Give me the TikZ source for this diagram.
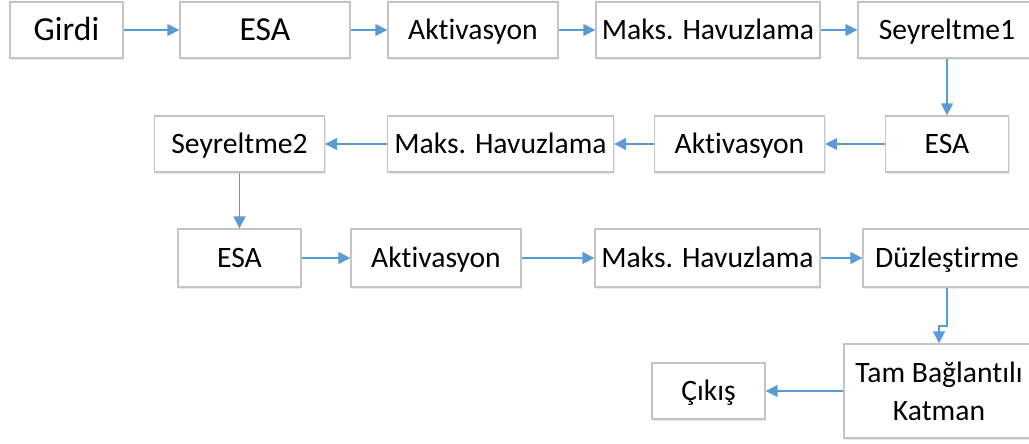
\documentclass[tikz,border=0pt]{standalone}
\usepackage{fontspec}
\setmainfont{Carlito}[Ligatures={NoCommon}]
\usetikzlibrary{arrows.meta,positioning,shadows}
\definecolor{flowblue}{HTML}{5B9BD5}
\definecolor{boxgray}{HTML}{C4C4C4}

\begin{document}
\begin{tikzpicture}[x=0.5pt, y=-0.5pt, >={Triangle[length=6pt, width=6pt]},
  plainbox/.style={draw=boxgray, line width=0.7pt, fill=white, minimum height=28pt, inner sep=0pt,
    font=\fontsize{14.8}{19}\selectfont,
    drop shadow={shadow xshift=0.6pt, shadow yshift=-1pt, opacity=0.18, fill=flowblue!60!gray}},
  box/.style={plainbox, text height=9.5pt, text depth=0pt},
  big/.style={font=\fontsize{16.8}{20}\selectfont, text height=10.4pt, text depth=0pt},
  flow/.style={->, draw=flowblue, line width=0.8pt}]
\useasboundingbox (0,0) rectangle (1029,444);
% first row
\node[box, big, minimum width=56.5pt] (girdi) at (66.5,30) {Girdi};
\node[box, big, minimum width=85pt, right of=girdi, node distance=99.25pt] (esa1) {ESA};
\node[box, minimum width=85pt, right of=esa1, node distance=104pt] (akt1) {Aktivasyon};
\node[box, minimum width=112pt, right of=akt1, node distance=117.5pt] (maks1) {Maks. Havuzlama};
\node[box, minimum width=89pt, right of=maks1, node distance=119.5pt] (seyr1) {Seyreltme1};
% second row, right to left
\node[box, minimum width=61.5pt, below of=seyr1, node distance=57pt] (esa2) {ESA};
\node[box, minimum width=85pt, left of=esa2, node distance=103.75pt] (akt2) {Aktivasyon};
\node[box, minimum width=113pt, left of=akt2, node distance=119.5pt] (maks2) {Maks. Havuzlama};
\node[box, minimum width=85pt, left of=maks2, node distance=130.5pt] (seyr2) {Seyreltme2};
% third row
\node[box, minimum width=61.5pt, minimum height=29pt, below of=seyr2, node distance=57pt] (esa3) {ESA};
\node[box, minimum width=85pt, minimum height=29pt, right of=esa3, node distance=98.25pt] (akt3) {Aktivasyon};
\node[box, minimum width=112.5pt, minimum height=29pt, right of=akt3, node distance=135.75pt] (maks3) {Maks. Havuzlama};
\node[box, minimum width=84pt, minimum height=29pt, right of=maks3, node distance=119.75pt] (duz) {Düzleştirme};
% output
\node[plainbox, align=center, minimum width=95pt, minimum height=47pt, below of=duz, node distance=66.5pt, xshift=-4pt] (tam) {Tam Bağlantılı\\Katman};
\node[box, minimum width=56.5pt, left of=tam, node distance=115.25pt] (cikis) {Çıkış};

\draw[flow] (girdi) -- (esa1);
\draw[flow] (esa1) -- (akt1);
\draw[flow] (akt1) -- (maks1);
\draw[flow] (maks1) -- (seyr1);
\draw[flow] (seyr1) -- (esa2);
\draw[flow] (esa2) -- (akt2);
\draw[flow] (akt2) -- (maks2);
\draw[flow] (maks2) -- (seyr2);
\draw[flow] (seyr2) -- (esa3);
\draw[flow] (esa3) -- (akt3);
\draw[flow] (akt3) -- (maks3);
\draw[flow] (maks3) -- (duz);
\draw[flow] (duz.south) -- ++(0,38) -| (tam.north);
\draw[flow] (tam) -- (cikis);
\end{tikzpicture}
\end{document}
